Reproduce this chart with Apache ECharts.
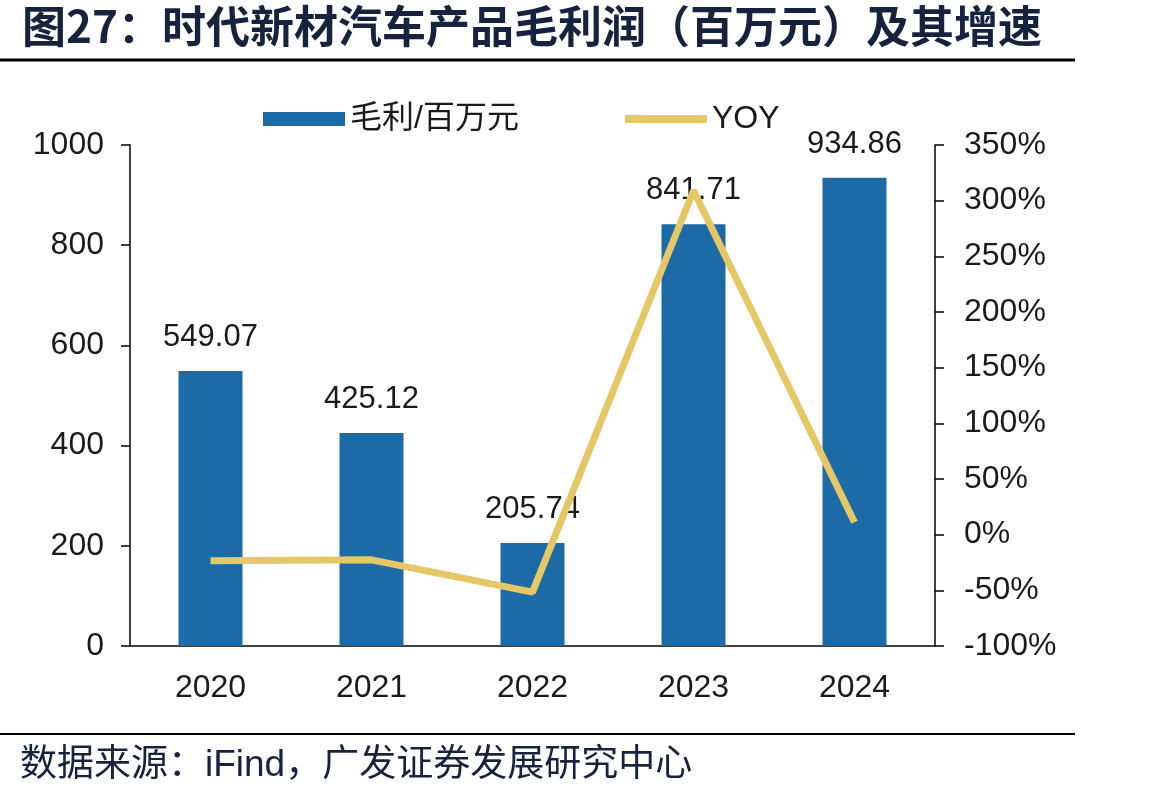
<!DOCTYPE html>
<html>
<head>
<meta charset="utf-8">
<script src="https://cdn.jsdelivr.net/npm/echarts@6/dist/echarts.min.js"></script>
<style>
  html, body { margin: 0; padding: 0; background: #fff; }
  #chart { width: 1168px; height: 803px; }
</style>
</head>
<body>
<div id="chart"></div>
<script>
// 数据
var years = ['2020', '2021', '2022', '2023', '2024'];
var grossProfit = [549.07, 425.12, 205.74, 841.71, 934.86];
var yoy = [-23.5, -22.6, -51.6, 309.1, 11.1];

var chartDom = document.getElementById('chart');
var myChart = echarts.init(chartDom);
var axisFont = { fontFamily: 'Liberation Sans, Arial', fontSize: 32, color: '#1a1a1a' };

var option = {
    animation: false,
    textStyle: { fontFamily: 'Liberation Sans, Arial' },
    grid: { left: 130, right: 233, top: 145, bottom: 157 },
    legend: {
        top: 98,
        left: 258,
        itemGap: 106,
        itemWidth: 82,
        itemHeight: 14,
        textStyle: { fontSize: 32, color: '#1a1a1a', fontFamily: 'Liberation Sans, Noto Sans CJK SC' },
        data: [
            { name: '毛利/百万元', icon: 'rect' },
            { name: 'YOY', icon: 'path://M0,0L82,0L82,8L0,8Z', itemStyle: { color: '#e6c766' } }
        ]
    },
    xAxis: {
        type: 'category',
        data: years,
        axisLine: { lineStyle: { color: '#000', width: 1.5 } },
        axisTick: { show: false },
        axisLabel: Object.assign({ margin: 26 }, axisFont)
    },
    yAxis: [
        {
            type: 'value', min: 0, max: 1000, interval: 200,
            splitLine: { show: false },
            axisLine: { show: true, lineStyle: { color: '#000', width: 1.5 } },
            axisTick: { show: true, length: 9, lineStyle: { color: '#000', width: 1.5 } },
            axisLabel: Object.assign({ margin: 26, formatter: function (v) { return String(v); } }, axisFont)
        },
        {
            type: 'value', min: -100, max: 350, interval: 50,
            splitLine: { show: false },
            axisLine: { show: true, lineStyle: { color: '#000', width: 1.5 } },
            axisTick: { show: true, length: 9, lineStyle: { color: '#000', width: 1.5 } },
            axisLabel: Object.assign({ margin: 29, formatter: '{value}%' }, axisFont)
        }
    ],
    series: [
        {
            name: '毛利/百万元',
            type: 'bar',
            barWidth: 64,
            itemStyle: { color: '#1c6aa6' },
            label: {
                show: true, position: 'top', distance: 18,
                fontSize: 31, color: '#1a1a1a', fontFamily: 'Liberation Sans, Arial'
            },
            data: grossProfit
        },
        {
            name: 'YOY',
            type: 'line',
            yAxisIndex: 1,
            symbol: 'none',
            lineStyle: { color: '#e6c766', width: 7 },
            itemStyle: { color: '#e6c766' },
            data: yoy
        }
    ],
    graphic: [
        {
            type: 'text', left: 22, top: 4,
            style: {
                text: '图27：时代新材汽车产品毛利润（百万元）及其增速',
                font: 'bold 44px "Noto Sans CJK SC"', fill: '#15233f'
            }
        },
        {
            type: 'line', shape: { x1: 0, y1: 60, x2: 1075, y2: 60 },
            style: { stroke: '#000', lineWidth: 3 }
        },
        {
            type: 'line', shape: { x1: 0, y1: 734, x2: 1075, y2: 734 },
            style: { stroke: '#000', lineWidth: 2 }
        },
        {
            type: 'text', left: 20, top: 747,
            style: {
                text: '数据来源：iFind，广发证券发展研究中心',
                font: '37px "Liberation Sans", "Noto Sans CJK SC"', fill: '#15233f'
            }
        }
    ]
};
option && myChart.setOption(option);
</script>
</body>
</html>
